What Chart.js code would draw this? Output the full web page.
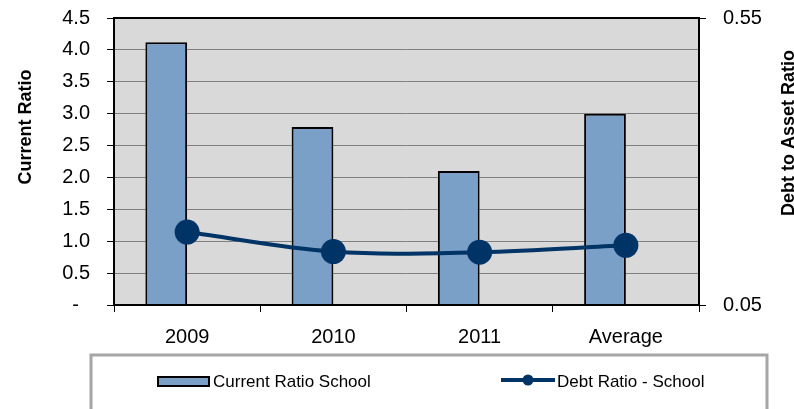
<!DOCTYPE html>
<html lang="en">
<head>
  <meta charset="UTF-8">
  <title>Current Ratio / Debt Ratio</title>
  <script src="https://cdn.jsdelivr.net/npm/chart.js"></script>
  <style>
    body { margin: 0; background: #fff; }
    canvas { display: block; }
  </style>
</head>
<body>
  <canvas id="chart" width="794" height="409"></canvas>
  <script>
    const categories = ['2009', '2010', '2011', 'Average'];
    const currentRatio = [4.12, 2.79, 2.10, 3.00];
    const debtRatio = [0.177, 0.143, 0.142, 0.154];
    const rightTicks = [0.05, 0.55];
    const emptySlot = [null, null, null, null];

    const barFill = '#7ba0c8';
    const navy = '#003366';
    const font = "'Liberation Sans', Arial, sans-serif";

    // plot background, border, axis titles and the boxed legend
    const decor = {
      id: 'decor',
      beforeDraw(chart) {
        const { ctx, chartArea: a } = chart;
        ctx.save();
        ctx.fillStyle = '#d9d9d9';
        ctx.fillRect(a.left, a.top, a.right - a.left, a.bottom - a.top);
        ctx.restore();
      },
      afterDraw(chart) {
        const { ctx, chartArea: a } = chart;
        ctx.save();
        ctx.strokeStyle = '#000';
        ctx.lineWidth = 2;
        ctx.strokeRect(a.left, a.top, a.right - a.left, a.bottom - a.top);

        ctx.fillStyle = '#000';
        ctx.font = 'bold 18px ' + font;
        ctx.textAlign = 'center';
        ctx.textBaseline = 'alphabetic';
        ctx.save();
        ctx.translate(31, 127);
        ctx.rotate(-Math.PI / 2);
        ctx.fillText('Current Ratio', 0, 0);
        ctx.restore();
        ctx.save();
        ctx.translate(794, 133);
        ctx.rotate(-Math.PI / 2);
        ctx.fillText('Debt to Asset Ratio', 0, 0);
        ctx.restore();

        // legend box
        ctx.fillStyle = '#fff';
        ctx.fillRect(91, 355, 676, 60);
        ctx.strokeStyle = '#a6a6a6';
        ctx.lineWidth = 3;
        ctx.strokeRect(91, 355, 676, 60);

        ctx.fillStyle = barFill;
        ctx.fillRect(158, 377, 51, 9);
        ctx.strokeStyle = '#000';
        ctx.lineWidth = 2;
        ctx.strokeRect(158, 377, 51, 9);

        ctx.strokeStyle = navy;
        ctx.lineWidth = 4;
        ctx.beginPath();
        ctx.moveTo(501, 380);
        ctx.lineTo(555, 380);
        ctx.stroke();
        ctx.fillStyle = navy;
        ctx.beginPath();
        ctx.arc(528, 380, 5.5, 0, Math.PI * 2);
        ctx.fill();

        ctx.fillStyle = '#000';
        ctx.font = '17px ' + font;
        ctx.textAlign = 'left';
        ctx.textBaseline = 'middle';
        ctx.fillText('Current Ratio School', 213, 382);
        ctx.fillText('Debt Ratio - School', 557, 382);
        ctx.restore();
      }
    };

    function fixVertical(width) {
      return s => {
        s.width = width;
        s.paddingTop = 0;
        s.paddingBottom = 0;
      };
    }

    new Chart(document.getElementById('chart'), {
      data: {
        labels: categories,
        datasets: [
          {
            type: 'line',
            label: 'Debt Ratio - School',
            data: debtRatio,
            yAxisID: 'y1',
            borderColor: navy,
            backgroundColor: navy,
            borderWidth: 4,
            pointRadius: 12.5,
            pointHoverRadius: 12.5,
            pointBorderWidth: 0,
            tension: 0.35,
            order: 0
          },
          {
            type: 'bar',
            label: 'Current Ratio School',
            data: currentRatio,
            yAxisID: 'y',
            backgroundColor: barFill,
            borderColor: '#000',
            borderWidth: 2,
            categoryPercentage: 0.571,
            barPercentage: 1,
            order: 1
          },
          {
            type: 'bar',
            label: '',
            data: emptySlot,
            yAxisID: 'y',
            categoryPercentage: 0.571,
            barPercentage: 1,
            order: 2
          }
        ]
      },
      options: {
        responsive: false,
        animation: false,
        layout: { padding: { top: 18, left: 0, right: 0, bottom: 0 } },
        plugins: { legend: { display: false }, tooltip: { enabled: false } },
        scales: {
          x: {
            grid: { drawOnChartArea: false, drawTicks: true, tickLength: 7, color: '#000', lineWidth: 1 },
            border: { display: false },
            ticks: { color: '#000', font: { family: font, size: 20 }, padding: 13 },
            afterFit(s) { s.height = 104; s.paddingLeft = 0; s.paddingRight = 0; }
          },
          y: {
            position: 'left',
            min: 0,
            max: 4.5,
            grid: { color: '#808080', tickColor: '#000', tickLength: 7, lineWidth: 1 },
            border: { display: false },
            ticks: {
              stepSize: 0.5,
              color: '#000',
              padding: 17,
              font: { family: font, size: 20 },
              callback: v => v === 0 ? '-  ' : v.toFixed(1)
            },
            afterFit: fixVertical(114)
          },
          y1: {
            position: 'right',
            min: 0.05,
            max: 0.55,
            grid: { drawOnChartArea: false, tickColor: '#000', tickLength: 7 },
            border: { display: false },
            ticks: {
              color: '#000',
              padding: 17,
              font: { family: font, size: 20 },
              callback: v => v.toFixed(2)
            },
            afterBuildTicks(s) { s.ticks = rightTicks.map(v => ({ value: v })); },
            afterFit: fixVertical(95)
          }
        }
      },
      plugins: [decor]
    });
  </script>
</body>
</html>
